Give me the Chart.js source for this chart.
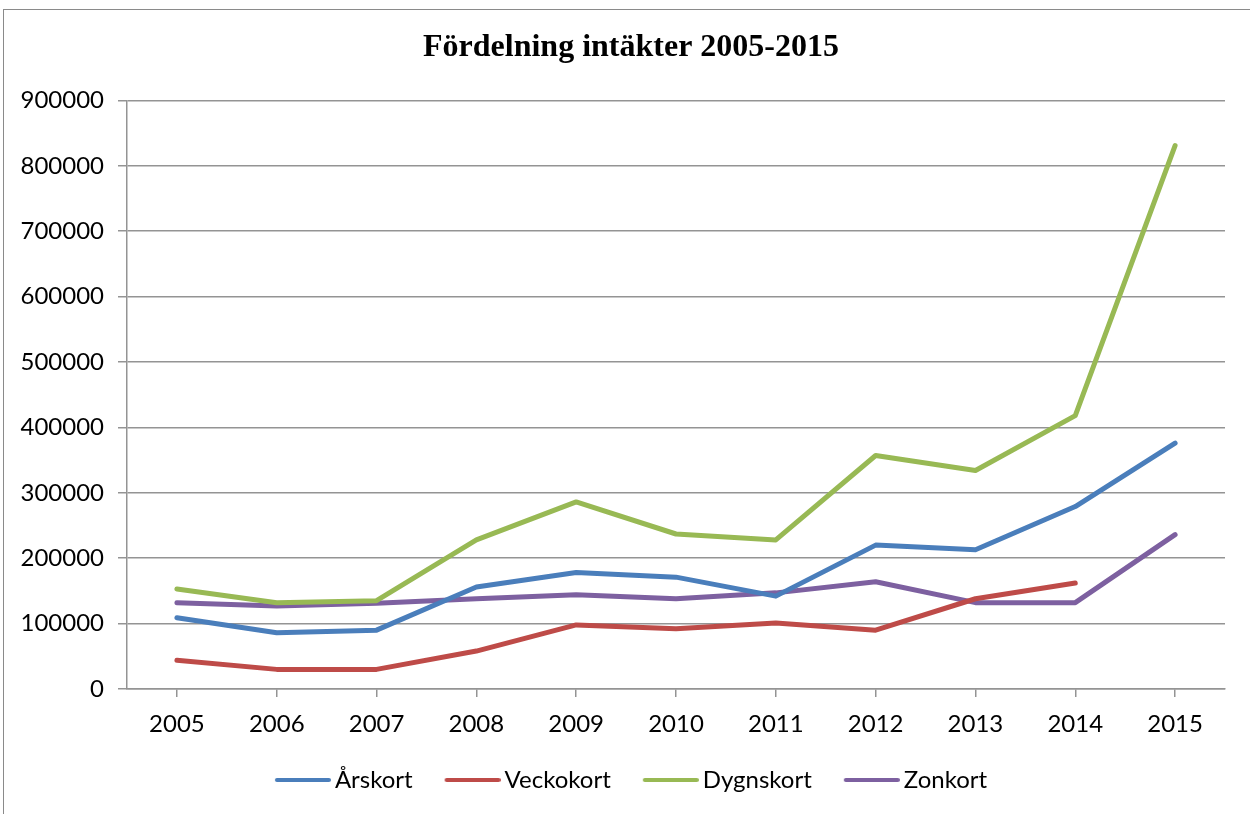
<!DOCTYPE html>
<html>
<head>
<meta charset="utf-8">
<script src="https://cdn.jsdelivr.net/npm/chart.js@4"></script>
<style>
  body { margin: 0; background: #fff; }
  #wrap { position: relative; width: 1250px; height: 814px; overflow: hidden; }
  #frame { position: absolute; left: 3px; top: 9px; width: 1400px; height: 1000px;
           border-left: 1.5px solid #8a8a8a; border-top: 1.5px solid #8a8a8a; pointer-events: none; }
  canvas { position: absolute; left: 0; top: 0; }
</style>
</head>
<body>
<div id="wrap">
  <canvas id="chart" width="1250" height="814"></canvas>
  <div id="frame"></div>
</div>
<script>
// data
const years = ['2005','2006','2007','2008','2009','2010','2011','2012','2013','2014','2015'];
const arskort   = [109000, 86000, 90000, 156000, 178000, 171000, 142000, 220000, 213000, 279000, 376000];
const veckokort = [44000, 30000, 30000, 58000, 98000, 92000, 101000, 90000, 138000, 162000, null];
const dygnskort = [153000, 132000, 135000, 228000, 286000, 237000, 228000, 357000, 334000, 418000, 831000];
const zonkort   = [132000, 127000, 131000, 138000, 144000, 138000, 147000, 164000, 132000, 132000, 236000];
const yTicks = [0, 100000, 200000, 300000, 400000, 500000, 600000, 700000, 800000, 900000];
const colors = ['#4a7ebb', '#be4b48', '#98b954', '#7d60a0'];

const gridGray = '#949494';
const tickFont = { family: 'Lato', size: 24 };

// legend line sample: 56px line, ending 4px before the text
function legendLine(color) {
    const c = document.createElement('canvas');
    c.width = 64; c.height = 8;
    const g = c.getContext('2d');
    g.strokeStyle = color;
    g.lineWidth = 4;
    g.lineCap = 'round';
    g.beginPath();
    g.moveTo(10, 4);
    g.lineTo(62, 4);
    g.stroke();
    return c;
}
const legendImgs = colors.map(legendLine);

function series(label, data, color) {
    return {
        label, data,
        borderColor: color,
        backgroundColor: color,
        borderWidth: 5,
        pointRadius: 0,
        pointHoverRadius: 0,
        tension: 0,
        borderCapStyle: 'round',
        borderJoinStyle: 'round'
    };
}

// y labels stick out past the left layout padding, so widen the label clip box
const unclipY = {
    id: 'unclipY',
    afterLayout(chart) { chart.scales.y.left = 0; }
};

new Chart(document.getElementById('chart'), {
    type: 'line',
    data: {
        labels: years,
        datasets: [
            series('Årskort', arskort, colors[0]),
            series('Veckokort', veckokort, colors[1]),
            series('Dygnskort', dygnskort, colors[2]),
            series('Zonkort', zonkort, colors[3])
        ]
    },
    options: {
        responsive: false,
        animation: false,
        layout: { padding: { left: 37, right: 25, top: 0, bottom: 12 } },
        plugins: {
            title: {
                display: true,
                text: 'Fördelning intäkter 2005-2015',
                color: '#000',
                font: { family: 'Liberation Serif', size: 32, weight: 'bold', lineHeight: 1.2 },
                padding: { top: 29, bottom: 33 }
            },
            legend: {
                position: 'bottom',
                labels: {
                    usePointStyle: true,
                    pointStyleWidth: 48,
                    color: '#000',
                    font: tickFont,
                    padding: 32,
                    generateLabels: chart => {
                        const items = Chart.defaults.plugins.legend.labels.generateLabels(chart);
                        items.forEach(it => { it.pointStyle = legendImgs[it.datasetIndex]; });
                        return items;
                    }
                }
            },
            tooltip: { enabled: false }
        },
        scales: {
            x: {
                offset: true,
                grid: { drawOnChartArea: false, drawTicks: true, tickLength: 8, color: gridGray, lineWidth: 1.5 },
                border: { color: gridGray, width: 1.5 },
                ticks: { color: '#000', font: tickFont, padding: 13, maxRotation: 0 },
                afterFit: s => { s.height = 47; }
            },
            y: {
                min: 0,
                max: 900000,
                afterBuildTicks: s => { s.ticks = yTicks.map(v => ({ value: v })); },
                grid: { color: gridGray, lineWidth: 1.5, tickLength: 9 },
                border: { color: gridGray, width: 1.5 },
                ticks: { color: '#000', font: tickFont, padding: 14, callback: v => String(v) },
                afterFit: s => { s.width = 90; }
            }
        }
    },
    plugins: [unclipY]
});
</script>
</body>
</html>
